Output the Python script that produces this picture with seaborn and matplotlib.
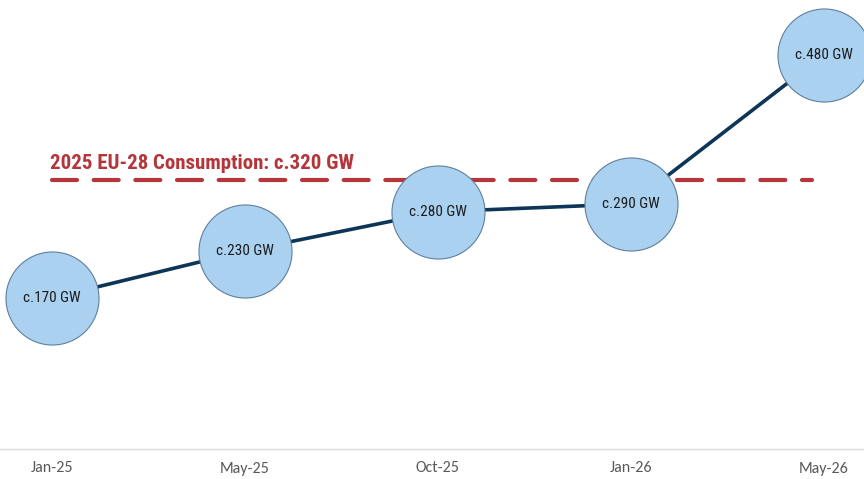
import matplotlib
matplotlib.use("Agg")
import matplotlib.pyplot as plt
from matplotlib import font_manager
import pandas as pd
import seaborn as sns

# Installed capacity milestones
periods = ["Jan-25", "May-25", "Oct-25", "Jan-26", "May-26"]
capacity_gw = [170, 230, 280, 290, 480]
point_labels = ["c.170 GW", "c.230 GW", "c.280 GW", "c.290 GW", "c.480 GW"]

# Reference consumption level
consumption_gw = 320
consumption_label = "2025 EU-28 Consumption: c.320 GW"


def first_font(candidates):
    names = {f.name for f in font_manager.fontManager.ttflist}
    for c in candidates:
        if c in names:
            return c
    return "DejaVu Sans"


narrow = first_font(["Roboto Condensed", "Liberation Sans Narrow",
                     "DejaVu Sans Condensed", "Roboto"])
tick_font = first_font(["Carlito", "Lato", "Open Sans"])

sns.set_theme(style="white")
plt.rcParams["font.family"] = [narrow, "DejaVu Sans"]

df = pd.DataFrame({"period": periods, "capacity": capacity_gw,
                   "pos": range(len(periods))})

fig = plt.figure(figsize=(8.64, 4.79), dpi=100)
ax = fig.add_axes([0, 1 - 449 / 479, 1, 449 / 479])

# Consumption reference line
ax.plot([0, len(periods) - 1.06], [consumption_gw, consumption_gw],
        color="#b5363a", lw=3.0, dashes=(6.0, 4.0), dash_capstyle="round",
        zorder=1)
ax.text(-0.012, consumption_gw + 22, consumption_label, color="#b5363a",
        fontsize=15, fontweight="bold", ha="left", va="center",
        family=[narrow, "DejaVu Sans"], zorder=4)

sns.lineplot(data=df, x="pos", y="capacity", ax=ax, color="#0c3557",
             lw=2.6, marker="o", markersize=67, markerfacecolor="#abd1f1",
             markeredgecolor="#5f7f9c", markeredgewidth=0.8, zorder=3,
             clip_on=False)

for i, (v, lab) in enumerate(zip(capacity_gw, point_labels)):
    ax.text(i, v, lab, ha="center", va="center", fontsize=11,
            color="#1b1b1b", family=[narrow, "DejaVu Sans"], zorder=5)

ax.set_xlim(-0.269, 4.207)
ax.set_ylim(-22.6, 550)
ax.set_xticks(range(len(periods)))
ax.set_xticklabels(periods, family=[tick_font, "DejaVu Sans"],
                   fontsize=11.5, color="#595959")
ax.tick_params(axis="x", length=0, pad=9)
ax.set_xlabel("")
ax.set_ylabel("")
ax.set_yticks([])
for s in ["top", "right", "left"]:
    ax.spines[s].set_visible(False)
ax.spines["bottom"].set_color("#d9d9d9")
ax.spines["bottom"].set_linewidth(1.0)

fig.savefig("out.png", dpi=100)
